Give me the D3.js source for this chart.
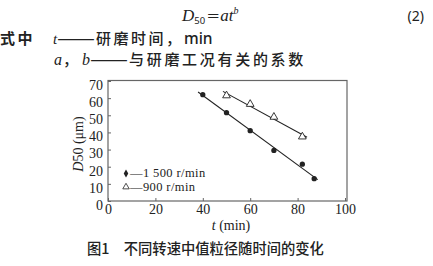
<!DOCTYPE html>
<html>
<head>
<meta charset="utf-8">
<script src="https://cdn.jsdelivr.net/npm/d3@7"></script>
<style>
body { margin: 0; background: #fff; }
svg { display: block; }
</style>
</head>
<body>
<svg id="svg"></svg>
<script>
var width = 433, height = 266;

// data
var t1500 = [40, 50, 60, 70, 82, 87];
var d1500 = [62, 51.5, 41, 29.5, 21.5, 13];
var t900 = [50, 60, 70, 82];
var d900 = [61.5, 56.5, 49, 37.5];
var fitRange1500 = [38, 88.5];
var fitRange900 = [48.5, 84];
var xTicks = [0, 20, 40, 60, 80, 100];
var yTicks = [0, 10, 20, 30, 40, 50, 60, 70];
var legendLabels = ["\u20141 500 r/min", "\u2014900 r/min"];

var svg = d3.select("#svg")
	.attr("width", width)
	.attr("height", height);

var ink = "#222";
var serif = "'Liberation Serif', 'DejaVu Serif', serif";
var cjk = "'Noto Sans CJK SC', sans-serif";
var sans = "'Noto Sans', sans-serif";

// header text (formula and explanation)
var f = svg.append("text")
	.attr("x", 182).attr("y", 21)
	.attr("font-family", serif).attr("font-size", "17px").attr("fill", ink);
f.append("tspan").attr("font-style", "italic").text("D");
f.append("tspan").attr("font-size", "9.5px").attr("font-family", sans).attr("dy", 2.5).text("50");
f.append("tspan").attr("font-family", cjk).attr("font-size", "14px").attr("dx", 1).attr("dy", -2.5).text("＝");
f.append("tspan").attr("font-style", "italic").text("at");
f.append("tspan").attr("font-style", "italic").attr("font-size", "10px").attr("dy", -7).text("b");

svg.append("text")
	.attr("x", 424).attr("y", 21)
	.attr("text-anchor", "end")
	.attr("font-family", sans).attr("font-size", "14px").attr("fill", ink)
	.text("(2)");

svg.append("text")
	.attr("x", 0).attr("y", 44)
	.attr("font-family", cjk).attr("font-size", "15px").attr("font-weight", 700)
	.attr("letter-spacing", "2.5px").attr("fill", ink)
	.text("式中");

var l1 = svg.append("text")
	.attr("y", 44)
	.attr("font-family", cjk).attr("font-size", "15px").attr("font-weight", 500).attr("fill", ink);
l1.append("tspan").attr("x", 53).attr("font-family", serif).attr("font-style", "italic").text("t");
l1.append("tspan").attr("x", 57).attr("textLength", 38).attr("lengthAdjust", "spacingAndGlyphs").text("——");
l1.append("tspan").attr("x", 96).attr("letter-spacing", "2.5px").text("研磨时间，");
l1.append("tspan").attr("x", 184).attr("font-family", sans).attr("font-size", "15.5px").text("min");

var l2 = svg.append("text")
	.attr("y", 65)
	.attr("font-family", cjk).attr("font-size", "15px").attr("font-weight", 500).attr("fill", ink);
l2.append("tspan").attr("x", 54).attr("font-family", serif).attr("font-style", "italic").attr("font-size", "16px").text("a");
l2.append("tspan").attr("x", 63).text("，");
l2.append("tspan").attr("x", 82).attr("font-family", serif).attr("font-style", "italic").attr("font-size", "16px").text("b");
l2.append("tspan").attr("x", 90).attr("textLength", 38).attr("lengthAdjust", "spacingAndGlyphs").text("——");
l2.append("tspan").attr("x", 129).attr("letter-spacing", "2.7px").text("与研磨工况有关的系数");

// chart
var x = d3.scaleLinear()
	.domain([0, 100])
	.range([108, 345]);

var y = d3.scaleLinear()
	.domain([0, 70])
	.range([201, 81]);

svg.append("rect")
	.attr("x", 108).attr("y", 80.5)
	.attr("width", 239).attr("height", 120.5)
	.attr("fill", "none")
	.attr("stroke", "#666")
	.attr("stroke-width", 1.2);

var xAxis = d3.axisBottom(x)
	.tickValues(xTicks)
	.tickSizeInner(-3)
	.tickSizeOuter(0)
	.tickPadding(3);
var yAxis = d3.axisLeft(y)
	.tickValues(yTicks)
	.tickSizeInner(-3)
	.tickSizeOuter(0)
	.tickPadding(5);

var gx = svg.append("g")
	.attr("transform", "translate(0,201)")
	.call(xAxis);
var gy = svg.append("g")
	.attr("transform", "translate(108,0)")
	.call(yAxis);

[gx, gy].forEach(function(g) {
	g.select(".domain").remove();
	g.selectAll("line").attr("stroke", "#666");
	g.selectAll("text")
		.attr("font-family", serif)
		.attr("font-size", "14px")
		.attr("fill", ink);
});
gy.selectAll("text").attr("dy", "0.6em");

// axis titles
var yt = svg.append("text")
	.attr("transform", "translate(83,144) rotate(-90)")
	.attr("text-anchor", "middle")
	.attr("font-family", serif).attr("font-size", "14px").attr("fill", ink);
yt.append("tspan").attr("font-style", "italic").text("D");
yt.append("tspan").text("50 (\u03bcm)");

var xt = svg.append("text")
	.attr("x", 231).attr("y", 230)
	.attr("text-anchor", "middle")
	.attr("font-family", serif).attr("font-size", "14px").attr("fill", ink);
xt.append("tspan").attr("font-style", "italic").text("t");
xt.append("tspan").text(" (min)");

// fitted lines
function fit(xs, ys) {
	var mx = d3.mean(xs), my = d3.mean(ys);
	var sxy = d3.sum(xs, function(v, i) { return (v - mx) * (ys[i] - my); });
	var sxx = d3.sum(xs, function(v) { return (v - mx) * (v - mx); });
	var b = sxy / sxx;
	return function(v) { return my + b * (v - mx); };
}

var lineGenerator = d3.line()
	.x(function(d) { return x(d[0]); })
	.y(function(d) { return y(d[1]); });

var f1500 = fit(t1500, d1500);
var f900 = fit(t900, d900);

svg.append("path")
	.attr("fill", "none").attr("stroke", ink).attr("stroke-width", 1.1)
	.attr("d", lineGenerator(fitRange1500.map(function(v) { return [v, f1500(v)]; })));
svg.append("path")
	.attr("fill", "none").attr("stroke", ink).attr("stroke-width", 1.1)
	.attr("d", lineGenerator(fitRange900.map(function(v) { return [v, f900(v)]; })));

// markers
var dot = d3.symbol().type(d3.symbolCircle).size(22);
var tri = d3.symbol().type(d3.symbolTriangle).size(26);
var dia = d3.symbol().type(d3.symbolDiamond).size(18);

svg.selectAll(".p1500")
	.data(t1500)
	.enter()
	.append("path")
	.attr("class", "p1500")
	.attr("d", dot)
	.attr("transform", function(d, i) { return "translate(" + x(d) + "," + y(d1500[i]) + ")"; })
	.attr("fill", ink);

svg.selectAll(".p900")
	.data(t900)
	.enter()
	.append("path")
	.attr("class", "p900")
	.attr("d", tri)
	.attr("transform", function(d, i) { return "translate(" + x(d) + "," + y(d900[i]) + ")"; })
	.attr("fill", "#fff")
	.attr("stroke", ink)
	.attr("stroke-width", 0.9);

// legend
var legend = svg.append("g").attr("class", "legend");
legend.append("path")
	.attr("d", dia)
	.attr("transform", "translate(126,173.5)")
	.attr("fill", ink);
legend.append("path")
	.attr("d", d3.symbol().type(d3.symbolTriangle).size(18))
	.attr("transform", "translate(126,187)")
	.attr("fill", "#fff")
	.attr("stroke", ink)
	.attr("stroke-width", 0.8);
legend.selectAll("text")
	.data(legendLabels)
	.enter()
	.append("text")
	.attr("x", 130)
	.attr("y", function(d, i) { return 177 + i * 13.5; })
	.attr("font-family", serif)
	.attr("font-size", "12.5px")
	.attr("letter-spacing", "0.4px")
	.attr("fill", ink)
	.text(function(d) { return d; });

// caption
svg.append("text")
	.attr("x", 87).attr("y", 254)
	.attr("font-family", cjk).attr("font-size", "14.3px").attr("font-weight", 500).attr("fill", ink)
	.text("图1\u3000不同转速中值粒径随时间的变化");
</script>
</body>
</html>
